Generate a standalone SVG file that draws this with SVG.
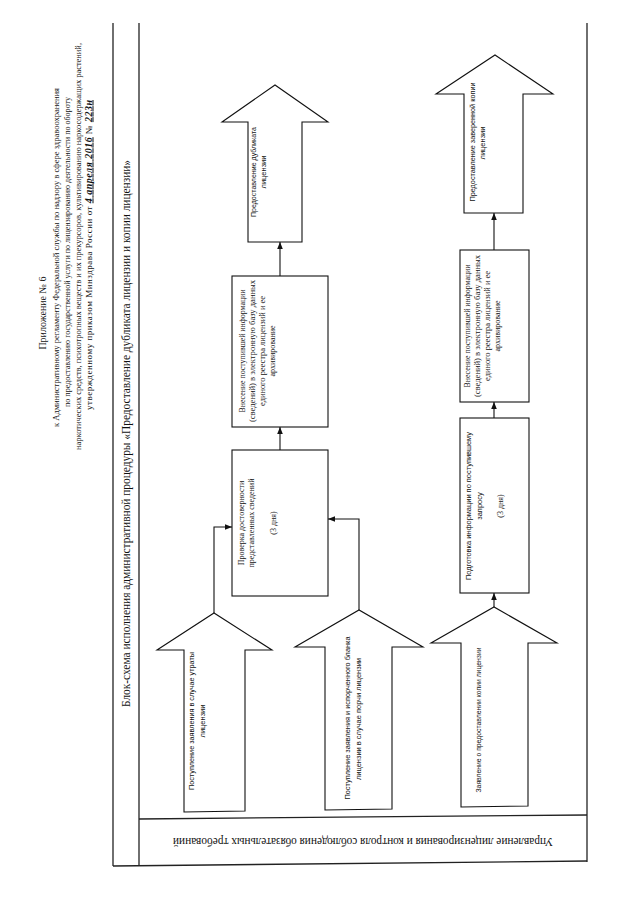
<svg xmlns="http://www.w3.org/2000/svg" width="640" height="905" viewBox="0 0 640 905">
<defs>
<marker id="ah" viewBox="0 0 10 10" refX="10" refY="5" markerWidth="7" markerHeight="7" markerUnits="userSpaceOnUse" orient="auto"><path d="M0,1 L10,5 L0,9 z" fill="#111"/></marker>
</defs>
<style>
.frame{fill:none;stroke:#222;stroke-width:1.3}
.shape{fill:#fff;stroke:#111;stroke-width:1.1}
.con{fill:none;stroke:#111;stroke-width:1.1;marker-end:url(#ah)}
.hdr{font-family:"Liberation Serif",serif;font-size:9px;fill:#111}
.big{font-family:"Liberation Serif",serif;font-size:11.5px;fill:#111}
.ser{font-family:"Liberation Serif",serif;font-size:8px;fill:#111}
.san{font-family:"Liberation Sans",sans-serif;font-size:7.5px;fill:#111}
.hw{font-style:italic;font-weight:bold;font-size:10px;text-decoration:underline}
</style>
<rect width="640" height="905" fill="#fff"/>

<g id="header">
<text class="hdr" style="font-size:10px" text-anchor="middle" transform="translate(46,313) rotate(-90)">Приложение № 6</text>
<text class="hdr" transform="translate(58.5,427) rotate(-90)" textLength="339" lengthAdjust="spacingAndGlyphs">к Административному регламенту Федеральной службы по надзору в сфере здравоохранения</text>
<text class="hdr" transform="translate(69.5,407) rotate(-90)" textLength="310" lengthAdjust="spacingAndGlyphs">по предоставлению государственной услуги по лицензированию деятельности по обороту</text>
<text class="hdr" transform="translate(80.5,450) rotate(-90)" textLength="407" lengthAdjust="spacingAndGlyphs">наркотических средств, психотропных веществ и их прекурсоров, культивированию наркосодержащих растений,</text>
<text class="hdr" transform="translate(91.5,410) rotate(-90)" textLength="310">утвержденному приказом Минздрава России  от <tspan class="hw">4 апреля 2016</tspan> № <tspan class="hw">223н</tspan></text>
</g>

<g id="frame">
<line class="frame" x1="113" y1="23" x2="113" y2="866"/>
<line class="frame" x1="139" y1="23" x2="139" y2="866"/>
<line class="frame" x1="587" y1="23" x2="587" y2="862"/>
<line class="frame" x1="139" y1="819" x2="587" y2="815"/>
<line class="frame" x1="113" y1="866" x2="587" y2="861"/>
</g>

<g id="title">
<text class="big" transform="translate(129.5,707) rotate(-90)" textLength="547" lengthAdjust="spacingAndGlyphs">Блок-схема исполнения административной процедуры «Предоставление дубликата лицензии и копии лицензии»</text>
</g>

<g id="lane-label">
<text class="big" text-anchor="middle" transform="translate(363,838) rotate(180)" textLength="380" lengthAdjust="spacingAndGlyphs">Управление лицензирования и контроля соблюдения обязательных требований</text>
</g>

<g id="connectors">
<path class="con" d="M214,613 V527 H232"/>
<path class="con" d="M359,610 V519 H328"/>
<path class="con" d="M280,450 V427"/>
<path class="con" d="M280,276 V242"/>
<path class="con" d="M494,607 V593"/>
<path class="con" d="M494,418 V402"/>
<path class="con" d="M494,250 V213"/>
</g>

<g id="in-loss">
<polygon class="shape" points="184,812 184,650 157,650 214,613 272,650 245,650 245,811"/>
<text class="san" text-anchor="middle" transform="translate(194,721) rotate(-90)" textLength="138" lengthAdjust="spacingAndGlyphs">Поступление заявления в случае утраты</text>
<text class="san" text-anchor="middle" transform="translate(205,721) rotate(-90)">лицензии</text>
</g>

<g id="in-damage">
<polygon class="shape" points="325,810 325,647 295,647 359,610 423,647 392,647 392,809"/>
<text class="san" text-anchor="middle" transform="translate(350,718) rotate(-90)" textLength="163" lengthAdjust="spacingAndGlyphs">Поступление заявления и испорченного бланка</text>
<text class="san" text-anchor="middle" transform="translate(361,719) rotate(-90)" textLength="122" lengthAdjust="spacingAndGlyphs">лицензии в случае порчи лицензии</text>
</g>

<g id="in-copy">
<polygon class="shape" points="461,807 461,643 431,643 494,607 557,643 528,643 528,806"/>
<text class="san" text-anchor="middle" transform="translate(481,720) rotate(-90)" textLength="145" lengthAdjust="spacingAndGlyphs">Заявление о предоставлении копии лицензии</text>
</g>

<g id="check">
<rect class="shape" x="232" y="450" width="96" height="146"/>
<text class="ser" text-anchor="middle" transform="translate(244,523) rotate(-90)">Проверка достоверности</text>
<text class="ser" text-anchor="middle" transform="translate(254,523) rotate(-90)">представленных сведений</text>
<text class="ser" text-anchor="middle" transform="translate(276,523) rotate(-90)">(3 дня)</text>
</g>

<g id="enter1">
<rect class="shape" x="232" y="276" width="96" height="151"/>
<text class="ser" text-anchor="middle" transform="translate(244.5,351) rotate(-90)" textLength="123" lengthAdjust="spacingAndGlyphs">Внесение поступившей информации</text>
<text class="ser" text-anchor="middle" transform="translate(254.5,351) rotate(-90)" textLength="142" lengthAdjust="spacingAndGlyphs">(сведений) в электронную базу данных</text>
<text class="ser" text-anchor="middle" transform="translate(264.5,351) rotate(-90)" textLength="110" lengthAdjust="spacingAndGlyphs">единого реестра лицензий и ее</text>
<text class="ser" text-anchor="middle" transform="translate(274.5,351) rotate(-90)">архивирование</text>
</g>

<g id="out-dup">
<polygon class="shape" points="248,242 248,122 222,122 275,85 328,122 302,122 302,242"/>
<text class="san" text-anchor="middle" transform="translate(256,172) rotate(-90)" textLength="90" lengthAdjust="spacingAndGlyphs">Предоставление дубликата</text>
<text class="san" text-anchor="middle" transform="translate(266,172) rotate(-90)">лицензии</text>
</g>

<g id="prepare">
<rect class="shape" x="460" y="418" width="69" height="175"/>
<text class="san" text-anchor="middle" transform="translate(471,506) rotate(-90)" textLength="148" lengthAdjust="spacingAndGlyphs">Подготовка информации по поступившему</text>
<text class="san" text-anchor="middle" transform="translate(482,506) rotate(-90)">запросу</text>
<text class="ser" text-anchor="middle" transform="translate(503,506) rotate(-90)">(3 дня)</text>
</g>

<g id="enter2">
<rect class="shape" x="460" y="250" width="69" height="152"/>
<text class="ser" text-anchor="middle" transform="translate(469.5,326) rotate(-90)" textLength="123" lengthAdjust="spacingAndGlyphs">Внесение поступившей информации</text>
<text class="ser" text-anchor="middle" transform="translate(479.5,326) rotate(-90)" textLength="142" lengthAdjust="spacingAndGlyphs">(сведений) в электронную базу данных</text>
<text class="ser" text-anchor="middle" transform="translate(489.5,326) rotate(-90)" textLength="110" lengthAdjust="spacingAndGlyphs">единого реестра лицензий и ее</text>
<text class="ser" text-anchor="middle" transform="translate(500,326) rotate(-90)">архивирование</text>
</g>

<g id="out-copy">
<polygon class="shape" points="464,213 464,94 436,94 495,55 553,94 523,94 523,213"/>
<text class="san" text-anchor="middle" transform="translate(475,142) rotate(-90)" textLength="119" lengthAdjust="spacingAndGlyphs">Предоставление заверенной копии</text>
<text class="san" text-anchor="middle" transform="translate(485,143) rotate(-90)">лицензии</text>
</g>
</svg>
